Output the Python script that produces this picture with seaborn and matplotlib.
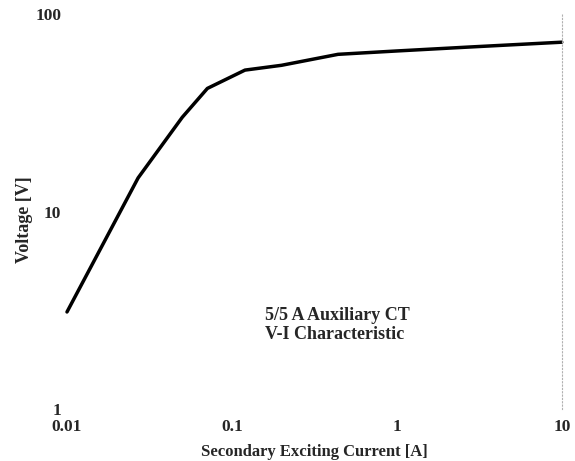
import matplotlib
matplotlib.use("Agg")
import matplotlib.pyplot as plt
import seaborn as sns
from matplotlib.ticker import FixedLocator, FixedFormatter, NullLocator

# Data
current = [0.01, 0.027, 0.05, 0.071, 0.12, 0.2, 0.44, 1.0, 2.7, 10]
voltage = [3.1, 14.8, 30, 42, 52, 55, 62.5, 65, 68, 72]

x_ticks = [0.01, 0.1, 1, 10]
x_labels = ["0.01", "0.1", "1", "10"]
y_ticks = [1, 10, 100]
y_labels = ["1", "10", "100"]

sns.set_style("white")
plt.rcParams["font.family"] = ["Liberation Serif", "DejaVu Serif"]
plt.rcParams["font.weight"] = "bold"

fig = plt.figure(figsize=(5.75, 4.61), dpi=100)
ax = fig.add_axes([0.1165, 0.1128, 0.8605, 0.8568])

sns.lineplot(x=current, y=voltage, color="black", linewidth=2.5, ax=ax)
for ln in ax.get_lines():
    ln.set_clip_on(False)

ax.set_xscale("log")
ax.set_yscale("log")
ax.set_xlim(0.01, 10)
ax.set_ylim(1, 100)

ax.xaxis.set_major_locator(FixedLocator(x_ticks))
ax.xaxis.set_major_formatter(FixedFormatter(x_labels))
ax.yaxis.set_major_locator(FixedLocator(y_ticks))
ax.yaxis.set_major_formatter(FixedFormatter(y_labels))
ax.xaxis.set_minor_locator(NullLocator())
ax.yaxis.set_minor_locator(NullLocator())
ax.tick_params(axis="both", length=0, labelsize=12.5)
ax.tick_params(axis="x", pad=7)
ax.tick_params(axis="y", pad=4)
for lbl in ax.get_xticklabels() + ax.get_yticklabels():
    lbl.set_fontweight("bold")

for side in ["top", "left", "bottom"]:
    ax.spines[side].set_visible(False)
ax.spines["right"].set_color("#b0b0b0")
ax.spines["right"].set_linestyle((0, (1, 2)))
ax.spines["right"].set_linewidth(0.8)

ax.set_xlabel("Secondary Exciting Current [A]", fontsize=12, fontweight="bold", labelpad=7)
ax.set_ylabel("Voltage [V]", fontsize=13, fontweight="bold", labelpad=8)
ax.yaxis.set_label_coords(-0.068, 0.48)

ax.text(0.4, 0.213, "5/5 A Auxiliary CT\nV-I Characteristic", transform=ax.transAxes,
        fontsize=13, fontweight="bold", va="center", ha="left", linespacing=1.1)

plt.savefig("out.png", dpi=100)
